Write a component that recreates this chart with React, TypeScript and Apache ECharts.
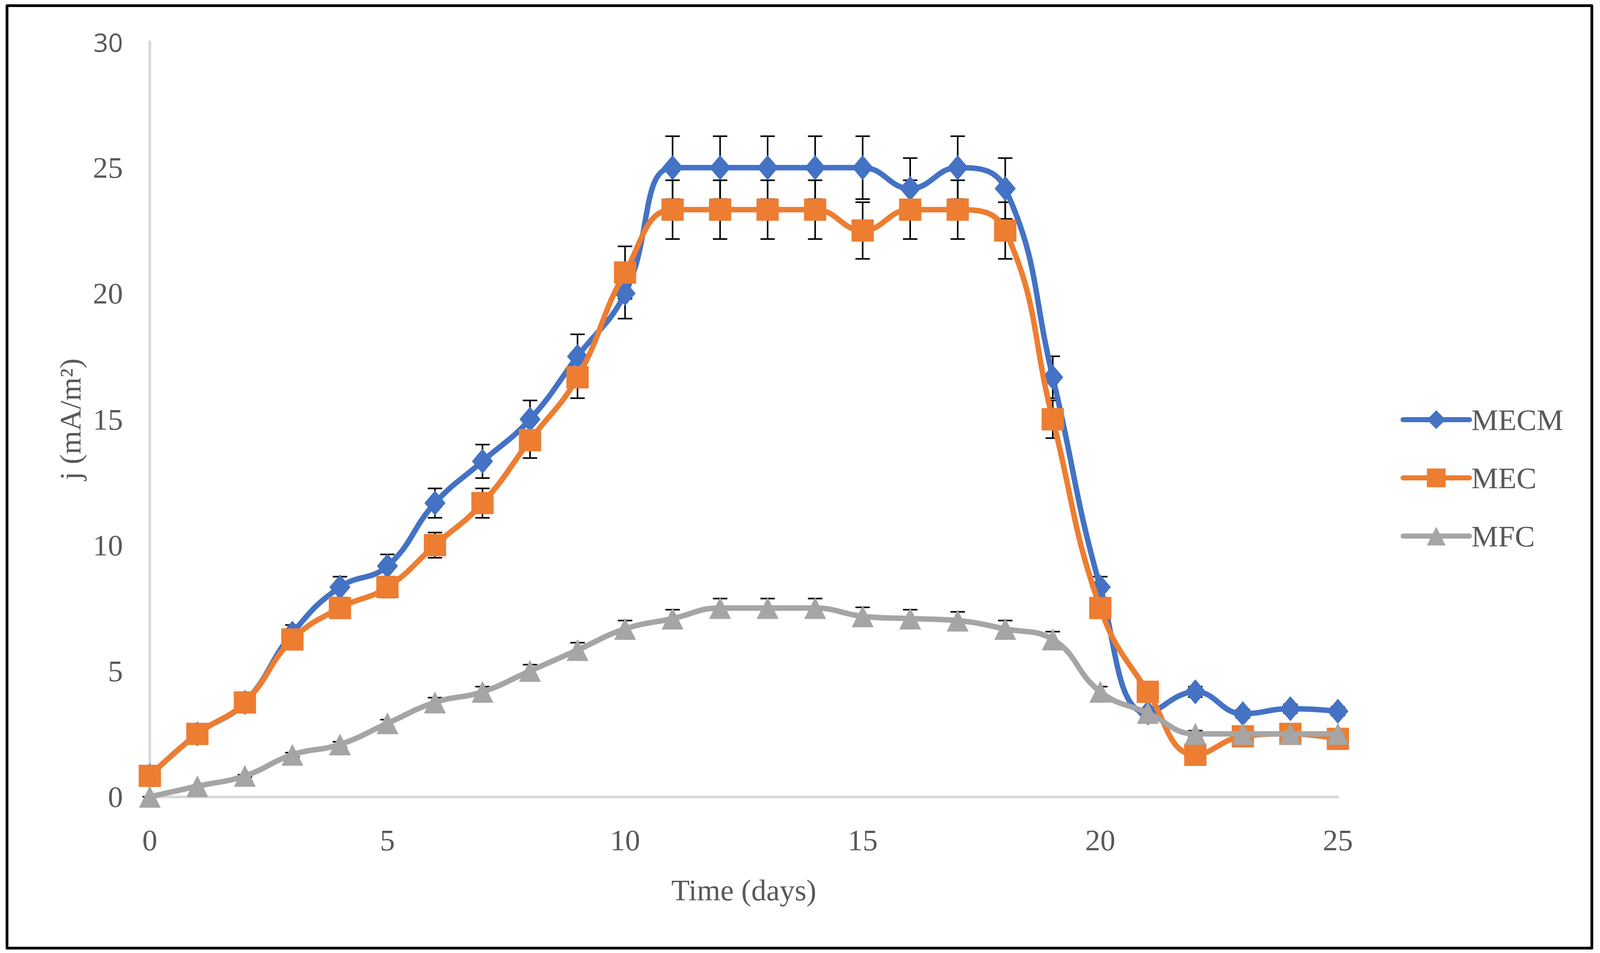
import React, { useEffect, useRef } from "react";
import * as echarts from "echarts";

// ---- Data ----
const days = [0, 1, 2, 3, 4, 5, 6, 7, 8, 9, 10, 11, 12, 13, 14, 15, 16, 17, 18, 19, 20, 21, 22, 23, 24, 25];
const mecm = [0.83, 2.5, 3.75, 6.5, 8.33, 9.17, 11.67, 13.33, 15, 17.5, 20, 25, 25, 25, 25, 25, 24.17, 25, 24.17, 16.67, 8.33, 3.33, 4.17, 3.3, 3.5, 3.4];
const mec = [0.83, 2.5, 3.75, 6.25, 7.5, 8.33, 10, 11.67, 14.17, 16.67, 20.83, 23.33, 23.33, 23.33, 23.33, 22.5, 23.33, 23.33, 22.5, 15, 7.5, 4.17, 1.67, 2.4, 2.5, 2.3];
const mfc = [0, 0.42, 0.83, 1.67, 2.08, 2.92, 3.75, 4.17, 5, 5.83, 6.67, 7.08, 7.5, 7.5, 7.5, 7.17, 7.08, 7.0, 6.67, 6.25, 4.17, 3.33, 2.5, 2.5, 2.5, 2.5];
const seriesNames = ["MECM", "MEC", "MFC"];
// Excel-style percentage error bars (5 %)
const errorPercent = 5;
const xTitle = "Time (days)";
const yTitle = "j (mA/m²)";

const FONT = "Liberation Serif";
const TEXT = "#595959";
const REF_W = 4218;

function lineSeries(name: string, values: number[], color: string, symbol: string, size: any, z: number) {
  return {
    type: "line",
    name,
    data: days.map((d, i) => [d, values[i]]),
    smooth: 0.45,
    symbol,
    symbolSize: size,
    clip: false,
    lineStyle: { color, width: 14, cap: "round", join: "round" },
    itemStyle: { color },
    z,
  };
}

function errorSeries(name: string, values: number[], z: number, hw: number) {
  return {
    type: "custom",
    name: name + " error",
    silent: true,
    clip: false,
    z,
    data: days.map((d, i) => [d, values[i] * (1 - errorPercent / 100), values[i] * (1 + errorPercent / 100)]),
    encode: { x: 0, y: [1, 2] },
    renderItem: (params: any, api: any) => {
      const x = api.value(0);
      const lo = api.coord([x, api.value(1)]);
      const hi = api.coord([x, api.value(2)]);
      const style = { stroke: "#000", lineWidth: 4 };
      return {
        type: "group",
        children: [
          { type: "line", shape: { x1: lo[0], y1: lo[1], x2: hi[0], y2: hi[1] }, style },
          { type: "line", shape: { x1: lo[0] - hw, y1: lo[1], x2: lo[0] + hw, y2: lo[1] }, style },
          { type: "line", shape: { x1: hi[0] - hw, y1: hi[1], x2: hi[0] + hw, y2: hi[1] }, style },
        ],
      };
    },
  };
}

export default function App() {
  const ref = useRef<HTMLDivElement>(null);
  useEffect(() => {
    if (!ref.current) return;
    const W = ref.current.clientWidth || REF_W;
    const sx = W / REF_W;
    const chart = echarts.init(ref.current, undefined, { renderer: "svg" });
    const fs = 77;
    const option: any = {
      animation: false,
      backgroundColor: "#ffffff",
      grid: { left: 395 * sx, top: 107, right: 691 * sx, bottom: 400, containLabel: false },
      xAxis: {
        type: "value",
        min: 0,
        max: 25,
        interval: 5,
        axisLine: { show: true, lineStyle: { color: "#d9d9d9", width: 7 } },
        axisTick: { show: false },
        splitLine: { show: false },
        axisLabel: { fontSize: fs, color: TEXT, fontFamily: FONT, margin: 72 },
        name: xTitle,
        nameLocation: "middle",
        nameGap: 200,
        nameTextStyle: { fontSize: fs, color: TEXT, fontFamily: FONT },
      },
      yAxis: {
        type: "value",
        min: 0,
        max: 30,
        interval: 5,
        axisLine: { show: true, lineStyle: { color: "#d9d9d9", width: 7 } },
        axisTick: { show: false },
        splitLine: { show: false },
        axisLabel: {
          fontSize: fs,
          color: TEXT,
          fontFamily: FONT,
          margin: 71 * sx,
          formatter: (v: number) => (v === 30 ? "{s|30}" : String(v)),
          rich: { s: { fontFamily: "Open Sans", fontSize: 66, color: TEXT } },
        },
        name: yTitle,
        nameLocation: "middle",
        nameGap: 170 * sx,
        nameRotate: 90,
        nameTextStyle: { fontSize: fs, color: TEXT, fontFamily: FONT },
      },
      legend: {
        data: seriesNames,
        orient: "vertical",
        left: 3687 * sx,
        top: 1031,
        itemWidth: 175 * sx,
        itemHeight: 60,
        itemGap: 72,
        lineStyle: { width: 13, cap: "round" },
        textStyle: { fontSize: fs, color: TEXT, fontFamily: FONT },
      },
      graphic: [
        {
          type: "rect",
          shape: { x: 18.5 * sx, y: 14.5, width: 4178 * sx, height: 2413 },
          style: { fill: "none", stroke: "#000", lineWidth: 7, lineJoin: "round" },
          silent: true,
          z: 100,
        },
      ],
      series: [
        errorSeries(seriesNames[0], mecm, 1, 19 * sx),
        errorSeries(seriesNames[1], mec, 1, 19 * sx),
        errorSeries(seriesNames[2], mfc, 1, 19 * sx),
        lineSeries(seriesNames[0], mecm, "#4472C4", "diamond", [54, 64], 3),
        lineSeries(seriesNames[1], mec, "#ED7D31", "rect", 57, 4),
        lineSeries(seriesNames[2], mfc, "#A5A5A5", "triangle", 56, 5),
      ],
    };
    chart.setOption(option);
    return () => chart.dispose();
  }, []);
  return (
    <div
      ref={ref}
      style={{ position: "absolute", left: 0, top: 0, width: "100vw", maxWidth: REF_W, height: 2440 }}
    />
  );
}
